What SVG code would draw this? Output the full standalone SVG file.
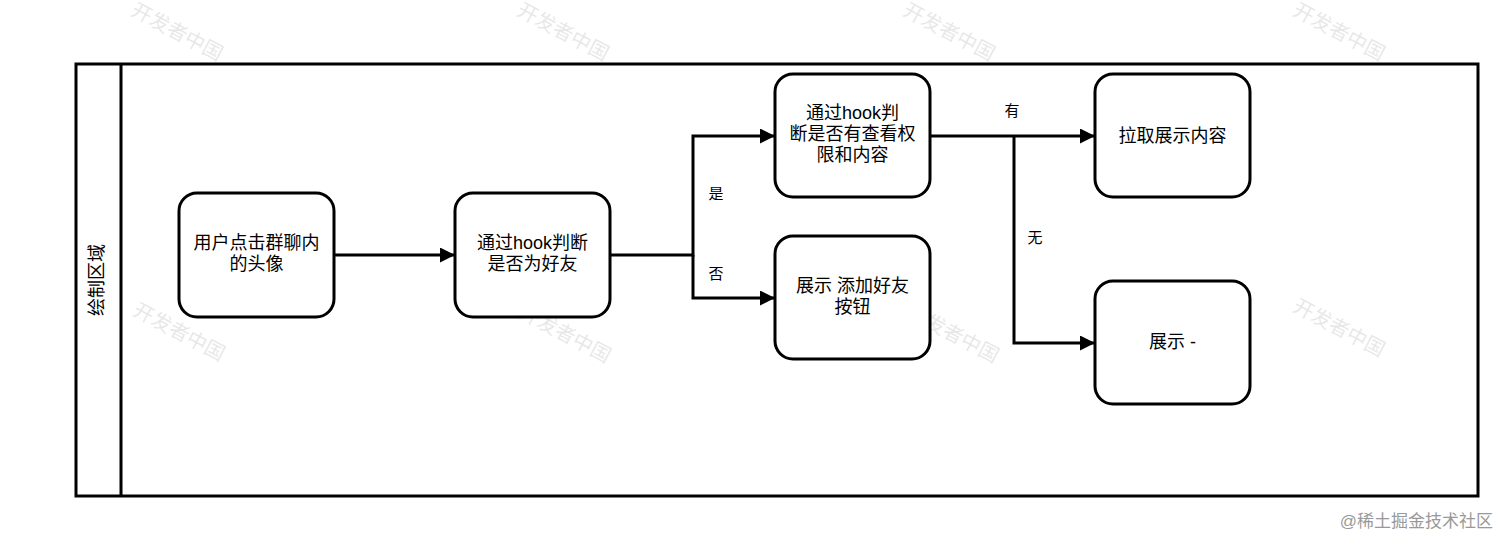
<svg xmlns="http://www.w3.org/2000/svg" width="1512" height="548" viewBox="0 0 1512 548">
<defs>
<style>
.t{font-family:"Liberation Sans","Noto Sans CJK SC",sans-serif;font-size:18px;fill:#000;text-anchor:middle}
.l{font-family:"Liberation Sans","Noto Sans CJK SC",sans-serif;font-size:15px;fill:#000;text-anchor:middle}
.n{fill:#fff;stroke:#000;stroke-width:3}
.c{fill:none;stroke:#000;stroke-width:3}
.wm{font-family:"Noto Sans CJK SC",sans-serif;font-size:20px;fill:#000;opacity:0.09;text-anchor:middle}
</style>
<marker id="ah" viewBox="0 0 10 10" refX="10" refY="5" markerWidth="5" markerHeight="5" orient="auto" markerUnits="strokeWidth">
<path d="M0,0 L10,5 L0,10 z" fill="#000"/>
</marker>
</defs>
<rect width="1512" height="548" fill="#fff"/>
<g id="watermarks">
<text class="wm" transform="translate(174,38) rotate(28)">开发者中国</text>
<text class="wm" transform="translate(560,38) rotate(28)">开发者中国</text>
<text class="wm" transform="translate(946,38) rotate(28)">开发者中国</text>
<text class="wm" transform="translate(1336,38) rotate(28)">开发者中国</text>
<text class="wm" transform="translate(176,338) rotate(28)">开发者中国</text>
<text class="wm" transform="translate(562,340) rotate(28)">开发者中国</text>
<text class="wm" transform="translate(950,340) rotate(28)">开发者中国</text>
<text class="wm" transform="translate(1336,334) rotate(28)">开发者中国</text>
</g>
<g id="lane">
<rect x="76" y="64" width="1402" height="432" fill="none" stroke="#000" stroke-width="3"/>
<line x1="121" y1="64" x2="121" y2="496" stroke="#000" stroke-width="3"/>
<text class="t" transform="translate(103,280) rotate(-90)">绘制区域</text>
</g>
<g id="connectors">
<path class="c" d="M334,255 H455" marker-end="url(#ah)"/>
<path class="c" d="M610,255 H693 V136 H775" marker-end="url(#ah)"/>
<path class="c" d="M693,255 V298 H775" marker-end="url(#ah)"/>
<path class="c" d="M930,136 H1095" marker-end="url(#ah)"/>
<path class="c" d="M1014,136 V343 H1095" marker-end="url(#ah)"/>
<text class="l" x="716" y="199">是</text>
<text class="l" x="716" y="279">否</text>
<text class="l" x="1012" y="116">有</text>
<text class="l" x="1035" y="243">无</text>
</g>
<g id="n1">
<rect class="n" x="179" y="193" width="155" height="124" rx="18"/>
<text class="t" x="256.5" y="249">用户点击群聊内</text>
<text class="t" x="256.5" y="270">的头像</text>
</g>
<g id="n2">
<rect class="n" x="455" y="193" width="155" height="124" rx="18"/>
<text class="t" x="532.5" y="249">通过hook判断</text>
<text class="t" x="532.5" y="270">是否为好友</text>
</g>
<g id="n3">
<rect class="n" x="775" y="74" width="155" height="123" rx="18"/>
<text class="t" x="852.5" y="119">通过hook判</text>
<text class="t" x="852.5" y="140">断是否有查看权</text>
<text class="t" x="852.5" y="161">限和内容</text>
</g>
<g id="n4">
<rect class="n" x="775" y="236" width="155" height="123" rx="18"/>
<text class="t" x="852.5" y="292">展示 添加好友</text>
<text class="t" x="852.5" y="313">按钮</text>
</g>
<g id="n5">
<rect class="n" x="1095" y="74" width="155" height="123" rx="18"/>
<text class="t" x="1172.5" y="142">拉取展示内容</text>
</g>
<g id="n6">
<rect class="n" x="1095" y="281" width="155" height="123" rx="18"/>
<text class="t" x="1172.5" y="348">展示 -</text>
</g>
<text x="1493" y="527" font-family="Liberation Sans,Noto Sans CJK SC,sans-serif" font-size="17" fill="#999" text-anchor="end">@稀土掘金技术社区</text>
</svg>
